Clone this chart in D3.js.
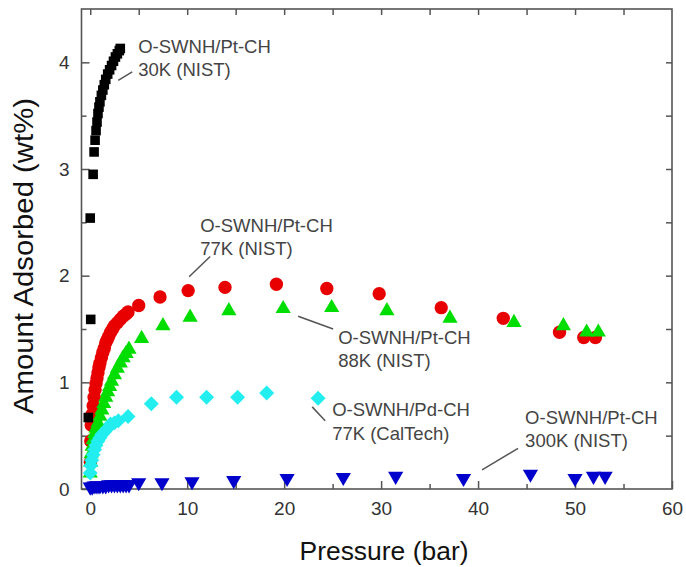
<!DOCTYPE html>
<html><head><meta charset="utf-8">
<script src="https://cdn.jsdelivr.net/npm/d3@7"></script>
<style>
html,body{margin:0;padding:0;background:#fff;}
svg{display:block;font-family:"Liberation Sans",Arial,sans-serif;}
</style></head>
<body><svg id="chart" width="686" height="567"></svg>
<script>
// ---- data ----
const xTicks = [0,10,20,30,40,50,60];
const yTicks = [0,1,2,3,4];

const blackX = [-0.2,0.05,0.0,0.3,0.4,0.5,0.6,0.7,0.8,0.9,1.0,1.15,1.3,1.45,1.6,1.8,2.0,2.2,2.4,2.6,2.8,3.0,3.1];
const blackY = [0.67,1.59,2.54,2.95,3.16,3.27,3.36,3.44,3.52,3.58,3.63,3.69,3.74,3.79,3.84,3.89,3.93,3.97,4.01,4.05,4.08,4.11,4.13];

const redX = [0.02,0.05,0.1,0.2,0.3,0.4,0.5,0.6,0.7,0.8,0.9,1.0,1.15,1.3,1.45,1.6,1.75,1.9,2.1,2.3,2.5,2.8,3.1,3.4,3.7,3.9,5.0,7.2,10.1,13.9,19.2,24.4,29.8,36.2,42.6,48.4,50.9,52.1];
const redY = [0.25,0.45,0.6,0.7,0.78,0.86,0.93,0.99,1.04,1.09,1.14,1.18,1.23,1.28,1.32,1.37,1.40,1.43,1.47,1.50,1.53,1.56,1.59,1.62,1.64,1.66,1.72,1.80,1.86,1.89,1.92,1.88,1.83,1.70,1.60,1.47,1.42,1.42];

const greenX = [0.0,0.05,0.1,0.2,0.3,0.45,0.6,0.8,1.0,1.2,1.4,1.6,1.8,2.0,2.2,2.5,2.8,3.1,3.4,3.7,4.0,5.3,7.5,10.3,14.3,19.9,24.9,30.6,37.1,43.7,48.8,51.2,52.4];
const greenY = [0.15,0.25,0.33,0.40,0.46,0.52,0.57,0.62,0.68,0.74,0.80,0.86,0.91,0.96,1.01,1.07,1.13,1.18,1.23,1.27,1.31,1.41,1.53,1.61,1.67,1.69,1.70,1.67,1.60,1.56,1.53,1.47,1.47];

const cyanX = [0.0,0.05,0.15,0.3,0.45,0.6,0.8,1.0,1.2,1.5,1.8,2.1,2.5,2.9,3.9,6.3,8.9,12.0,15.2,18.2,23.5];
const cyanY = [0.15,0.22,0.27,0.32,0.37,0.41,0.45,0.48,0.51,0.54,0.57,0.61,0.62,0.64,0.68,0.80,0.86,0.86,0.86,0.90,0.85];

const blueX = [0.0,0.2,0.4,0.6,0.8,1.0,1.3,1.6,1.9,2.2,2.5,2.8,3.1,3.4,3.7,4.0,5.0,7.4,10.5,14.8,20.3,26.1,31.5,38.5,45.4,50.0,51.9,53.1];
const blueY = [0.02,0.02,0.03,0.03,0.03,0.03,0.03,0.03,0.04,0.04,0.04,0.04,0.04,0.04,0.04,0.04,0.06,0.06,0.07,0.08,0.10,0.11,0.12,0.10,0.14,0.10,0.12,0.12];

const labelLines = [
  ["O-SWNH/Pt-CH","30K (NIST)"],
  ["O-SWNH/Pt-CH","77K (NIST)"],
  ["O-SWNH/Pt-CH","88K (NIST)"],
  ["O-SWNH/Pd-CH","77K (CalTech)"],
  ["O-SWNH/Pt-CH","300K (NIST)"]
];
// label anchor in data units (x, y of first baseline)
const labelAt = [[4.95,4.09],[11.34,2.41],[25.57,1.36],[24.95,0.68],[44.85,0.61]];
// leader lines in data units
const leaders = [
  [[2.89,3.83],[4.33,3.91]],
  [[10.2,1.99],[12.37,2.18]],
  [[21.44,1.62],[25.05,1.50]],
  [[22.89,0.77],[24.23,0.64]],
  [[40.41,0.18],[44.12,0.38]]
];

// ---- layout ----
const L = 81.5, R = 672, T = 9, B = 489;
const svg = d3.select("#chart");
const x = d3.scaleLinear().domain([-0.9,60]).range([L,R]);
const y = d3.scaleLinear().domain([0,4.5]).range([B,T]);

const axisColor = "#555";
const tickFont = 19;

function styleAxis(g){
  g.select(".domain").remove();
  g.selectAll(".tick line").attr("stroke",axisColor).attr("stroke-width",1.5);
  g.selectAll(".tick text").attr("fill","#333").style("font-size",tickFont+"px")
    .style("font-family",'"Liberation Sans",Arial,sans-serif');
}
svg.append("g").attr("transform",`translate(0,${B})`)
  .call(d3.axisBottom(x).tickValues(xTicks).tickSize(-8).tickPadding(13).tickFormat(d3.format("d")))
  .call(styleAxis);
svg.append("g").attr("transform",`translate(0,${B})`)
  .call(d3.axisBottom(x).tickValues([5,15,25,35,45,55]).tickSize(-5).tickFormat(""))
  .call(styleAxis);
svg.append("g").attr("transform",`translate(${L},0)`)
  .call(d3.axisLeft(y).tickValues(yTicks).tickSize(-8).tickPadding(12).tickFormat(d3.format("d")))
  .call(styleAxis);
svg.append("g").attr("transform",`translate(${L},0)`)
  .call(d3.axisLeft(y).tickValues([0.5,1.5,2.5,3.5]).tickSize(-5).tickFormat(""))
  .call(styleAxis);
svg.append("g").attr("transform",`translate(0,${T})`)
  .call(d3.axisTop(x).tickValues([0,5,10,15,20,25,30,35,40,45,50,55]).tickSize(-6).tickFormat(""))
  .call(styleAxis);
svg.append("g").attr("transform",`translate(${R},0)`)
  .call(d3.axisRight(y).tickValues([0.5,1,1.5,2,2.5,3,3.5,4]).tickSize(-6).tickFormat(""))
  .call(styleAxis);

svg.append("rect").attr("x",L).attr("y",T).attr("width",R-L).attr("height",B-T)
  .attr("fill","none").attr("stroke",axisColor).attr("stroke-width",1.6);

// axis titles
svg.append("text").attr("x",384).attr("y",560).attr("text-anchor","middle")
  .style("font-size","25px").attr("fill","#111")
  .attr("textLength",169).attr("lengthAdjust","spacingAndGlyphs")
  .text("Pressure (bar)");
svg.append("text").attr("transform","translate(33,256) rotate(-90)").attr("text-anchor","middle")
  .style("font-size","27px").attr("fill","#111")
  .attr("textLength",316).attr("lengthAdjust","spacingAndGlyphs")
  .text("Amount Adsorbed (wt%)");

// ---- marks ----
const plot = svg.append("g");
function series(xs, ys, type, size, color, rot){
  const sym = d3.symbol().type(type).size(size);
  plot.append("g").selectAll("path").data(xs.map((v,i)=>[v,ys[i]])).join("path")
    .attr("d", sym)
    .attr("transform", d=>`translate(${x(d[0])},${y(d[1])}) rotate(${rot})`)
    .attr("fill", color);
}
series(redX, redY, d3.symbolCircle, 140, "#e80000", 0);
series(greenX, greenY, d3.symbolTriangle, 100, "#00dd00", 0);
series(cyanX, cyanY, d3.symbolSquare, 112, "#22eef0", 45);
series(blueX, blueY, d3.symbolTriangle, 100, "#0000cc", 180);
series(blackX, blackY, d3.symbolSquare, 92, "#000000", 0);

// ---- annotations ----
const ann = svg.append("g");
leaders.forEach(l=>{
  ann.append("line").attr("x1",x(l[0][0])).attr("y1",y(l[0][1]))
    .attr("x2",x(l[1][0])).attr("y2",y(l[1][1]))
    .attr("stroke","#555").attr("stroke-width",1.5);
});
labelLines.forEach((lines,i)=>{
  const t = ann.append("text").attr("x",x(labelAt[i][0])).attr("y",y(labelAt[i][1]))
    .style("font-size","18.5px").attr("fill","#444");
  lines.forEach((s,j)=>{
    t.append("tspan").attr("x",x(labelAt[i][0])).attr("dy", j===0?0:23.5).text(s);
  });
});
</script>
</body></html>
